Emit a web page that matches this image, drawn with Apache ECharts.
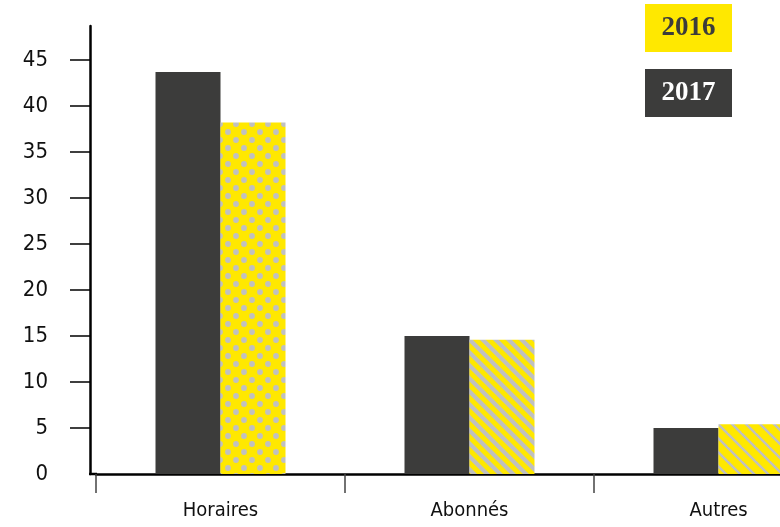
<!DOCTYPE html>
<html>
<head>
<meta charset="utf-8">
<script src="https://cdn.jsdelivr.net/npm/echarts@6/dist/echarts.min.js"></script>
<style>
html,body{margin:0;padding:0;background:#fff;}
#c{width:780px;height:527px;}
</style>
</head>
<body>
<div id="c"></div>
<script>
const categories = ['Horaires', 'Abonnés', 'Autres'];
const values2017 = [43.7, 15.0, 5.0];
const values2016 = [38.2, 14.6, 5.4];
const yLabelValues = [0, 5, 10, 15, 20, 25, 30, 35, 40, 45];
const yTickValues = [5, 10, 15, 20, 25, 30, 35, 40, 45];

const YELLOW = '#ffe800';
const GREY = '#c0c0c0';
const DARK = '#3c3c3b';

function dotTile() {
  const c = document.createElement('canvas');
  c.width = 16; c.height = 16;
  const g = c.getContext('2d');
  g.fillStyle = YELLOW; g.fillRect(0, 0, 16, 16);
  g.fillStyle = GREY;
  [[4, 4], [12, 12]].forEach(p => {
    g.beginPath(); g.arc(p[0], p[1], 2.9, 0, Math.PI * 2); g.fill();
  });
  return c;
}
function stripeTile(P, grey) {
  const c = document.createElement('canvas');
  c.width = P; c.height = P;
  const g = c.getContext('2d');
  g.fillStyle = YELLOW; g.fillRect(0, 0, P, P);
  g.strokeStyle = GREY;
  g.lineWidth = grey / Math.SQRT2;
  for (let k = -2; k <= 2; k++) {
    g.beginPath();
    g.moveTo(k * P - P, -P);
    g.lineTo(k * P + 2 * P, 2 * P);
    g.stroke();
  }
  return c;
}
const patterns = [
  { image: dotTile(), repeat: 'repeat' },
  { image: stripeTile(13, 6), repeat: 'repeat' },
  { image: stripeTile(14, 3.5), repeat: 'repeat' }
];

const chart = echarts.init(document.getElementById('c'));
const labelFont = '"DejaVu Sans Condensed", "DejaVu Sans", sans-serif';
chart.setOption({
  animation: false,
  grid: { left: 96, width: 747, top: 26, bottom: 53, containLabel: false, outerBoundsMode: 'none' },
  xAxis: {
    type: 'category',
    data: categories,
    boundaryGap: true,
    axisLine: { lineStyle: { color: '#000', width: 2.5 } },
    axisTick: { show: true, length: 19, lineStyle: { color: '#444', width: 1.5 } },
    axisLabel: { margin: 27, color: '#111', fontSize: 20, fontFamily: labelFont }
  },
  yAxis: {
    type: 'value',
    min: 0,
    max: 48.7,
    offset: 6,
    splitLine: { show: false },
    axisLine: { show: true, lineStyle: { color: '#000', width: 2.5 } },
    axisTick: { show: true, length: 20, customValues: yTickValues, lineStyle: { color: '#000', width: 1.5 } },
    axisLabel: { customValues: yLabelValues, margin: 42, color: '#111', fontSize: 22, fontFamily: labelFont }
  },
  series: [
    {
      name: '2017', type: 'bar', barWidth: 65, barGap: '0%',
      itemStyle: { color: DARK },
      data: values2017
    },
    {
      name: '2016', type: 'bar', barWidth: 65, barGap: '0%',
      data: values2016.map((v, i) => ({ value: v, itemStyle: { color: patterns[i] } }))
    }
  ],
  graphic: [
    { type: 'line', shape: { x1: 89, y1: 474, x2: 97, y2: 474 }, style: { stroke: '#000', lineWidth: 2.5 } },
    { type: 'rect', shape: { x: 645, y: 4, width: 87, height: 48 }, style: { fill: YELLOW } },
    { type: 'text', x: 688.5, y: 28, style: { text: '2016', fill: DARK, font: 'bold 27px "Liberation Serif", "DejaVu Serif", serif', align: 'center', verticalAlign: 'middle' } },
    { type: 'rect', shape: { x: 645, y: 69, width: 87, height: 48 }, style: { fill: DARK } },
    { type: 'text', x: 688.5, y: 93, style: { text: '2017', fill: '#fff', font: 'bold 27px "Liberation Serif", "DejaVu Serif", serif', align: 'center', verticalAlign: 'middle' } }
  ]
});
</script>
</body>
</html>
